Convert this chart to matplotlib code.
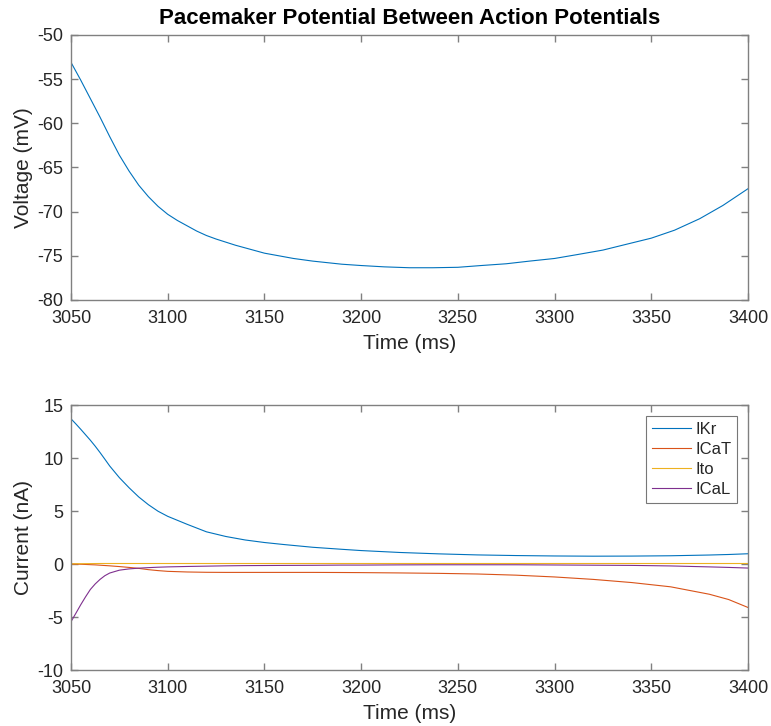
import numpy as np
import matplotlib
matplotlib.use("Agg")
import matplotlib.pyplot as plt

plt.rcParams['font.family'] = ['Liberation Sans', 'DejaVu Sans']
plt.rcParams['axes.unicode_minus'] = False

# membrane voltage (mV)
t_v = [3050, 3055, 3060, 3065, 3070, 3075, 3080, 3085, 3090, 3095, 3100, 3105,
       3110, 3115, 3120, 3125, 3135, 3150, 3165, 3175, 3190, 3200, 3212, 3225,
       3237, 3250, 3262, 3275, 3287, 3300, 3312, 3325, 3337, 3350, 3362, 3375,
       3387, 3400]
volt = [-53.1, -55.1, -57.2, -59.3, -61.5, -63.6, -65.4, -67.0, -68.3, -69.4, -70.3, -71.0,
        -71.6, -72.2, -72.7, -73.1, -73.8, -74.7, -75.3, -75.6, -75.95, -76.1, -76.25, -76.35,
        -76.35, -76.3, -76.1, -75.9, -75.6, -75.3, -74.85, -74.35, -73.7, -73.0, -72.1, -70.8,
        -69.3, -67.4]

# currents (nA), bottom panel
t_i = [3050, 3052.5, 3055, 3057.5, 3060, 3062.5, 3065, 3067.5, 3070, 3075, 3080, 3085,
       3090, 3095, 3100, 3110, 3120, 3130, 3140, 3150, 3160, 3175, 3190, 3200,
       3220, 3240, 3260, 3280, 3300, 3320, 3340, 3360, 3380, 3390, 3400]
ikr = [13.7, 13.22, 12.72, 12.2, 11.68, 11.12, 10.52, 9.89, 9.25, 8.15, 7.2, 6.33,
       5.6, 4.98, 4.5, 3.75, 3.04, 2.6, 2.27, 2.03, 1.84, 1.58, 1.39, 1.27,
       1.09, 0.96, 0.86, 0.8, 0.76, 0.74, 0.75, 0.78, 0.85, 0.9, 0.97]
icat = [0.0, -0.01, -0.02, -0.04, -0.06, -0.08, -0.11, -0.14, -0.17, -0.24, -0.32, -0.41,
        -0.53, -0.62, -0.69, -0.75, -0.78, -0.79, -0.79, -0.79, -0.79, -0.79, -0.8, -0.81,
        -0.84, -0.88, -0.94, -1.05, -1.22, -1.45, -1.75, -2.15, -2.85, -3.35, -4.1]
ito = [0.02, 0.025, 0.03, 0.035, 0.04, 0.045, 0.05, 0.05, 0.05, 0.05, 0.05, 0.05,
       0.05, 0.05, 0.05, 0.05, 0.05, 0.05, 0.05, 0.05, 0.05, 0.05, 0.05, 0.05,
       0.05, 0.05, 0.05, 0.05, 0.05, 0.05, 0.05, 0.05, 0.05, 0.05, 0.05]
ical = [-5.44, -4.65, -3.85, -3.1, -2.4, -1.88, -1.45, -1.1, -0.85, -0.58, -0.46, -0.39,
        -0.34, -0.3, -0.27, -0.23, -0.2, -0.17, -0.15, -0.14, -0.13, -0.12, -0.1, -0.1,
        -0.08, -0.07, -0.07, -0.07, -0.09, -0.11, -0.13, -0.18, -0.27, -0.32, -0.38]

names = ['IKr', 'ICaT', 'Ito', 'ICaL']
colors = ['#0072BD', '#D95319', '#EDB120', '#7E2F8E']
axcol = '#262626'

fig = plt.figure(figsize=(7.71, 7.26), dpi=100)
ax1 = fig.add_axes([0.0921, 0.5868, 0.8781, 0.3650])
ax2 = fig.add_axes([0.0921, 0.0771, 0.8781, 0.3650])


def style(ax):
    for s in ax.spines.values():
        s.set_color('#808080')
        s.set_linewidth(1.0)
    ax.tick_params(direction='in', length=5, width=1.0, color='#808080',
                   labelcolor=axcol, labelsize=13, top=True, right=True)
    ax.tick_params(axis='x', pad=7)
    ax.tick_params(axis='y', pad=5.5)
    ax.set_xlim(3050, 3400)
    ax.set_xticks(np.arange(3050, 3401, 50))


ax1.plot(t_v, volt, color=colors[0], lw=0.8)
style(ax1)
ax1.set_ylim(-80, -50)
ax1.set_yticks(np.arange(-80, -49, 5))
ax1.set_xlabel('Time (ms)', fontsize=15, color=axcol, labelpad=5)
ax1.set_ylabel('Voltage (mV)', fontsize=15, color=axcol, labelpad=3)
ax1.set_title('Pacemaker Potential Between Action Potentials', fontsize=16,
              fontweight='bold', color='black', pad=8)

for y, n, c in zip([ikr, icat, ito, ical], names, colors):
    ax2.plot(t_i, y, color=c, lw=0.8, label=n)
style(ax2)
ax2.set_ylim(-10, 15)
ax2.set_yticks(np.arange(-10, 16, 5))
ax2.set_xlabel('Time (ms)', fontsize=15, color=axcol, labelpad=5)
ax2.set_ylabel('Current (nA)', fontsize=15, color=axcol, labelpad=3)
leg = ax2.legend(loc='upper right', fontsize=12, frameon=True, fancybox=False,
                 borderpad=0.35, labelspacing=0.3, handlelength=2.35,
                 handletextpad=0.25, borderaxespad=0.65)
leg.get_frame().set_edgecolor('#555555')
leg.get_frame().set_linewidth(0.8)
for txt in leg.get_texts():
    txt.set_color(axcol)

fig.savefig('out.png', dpi=100)
